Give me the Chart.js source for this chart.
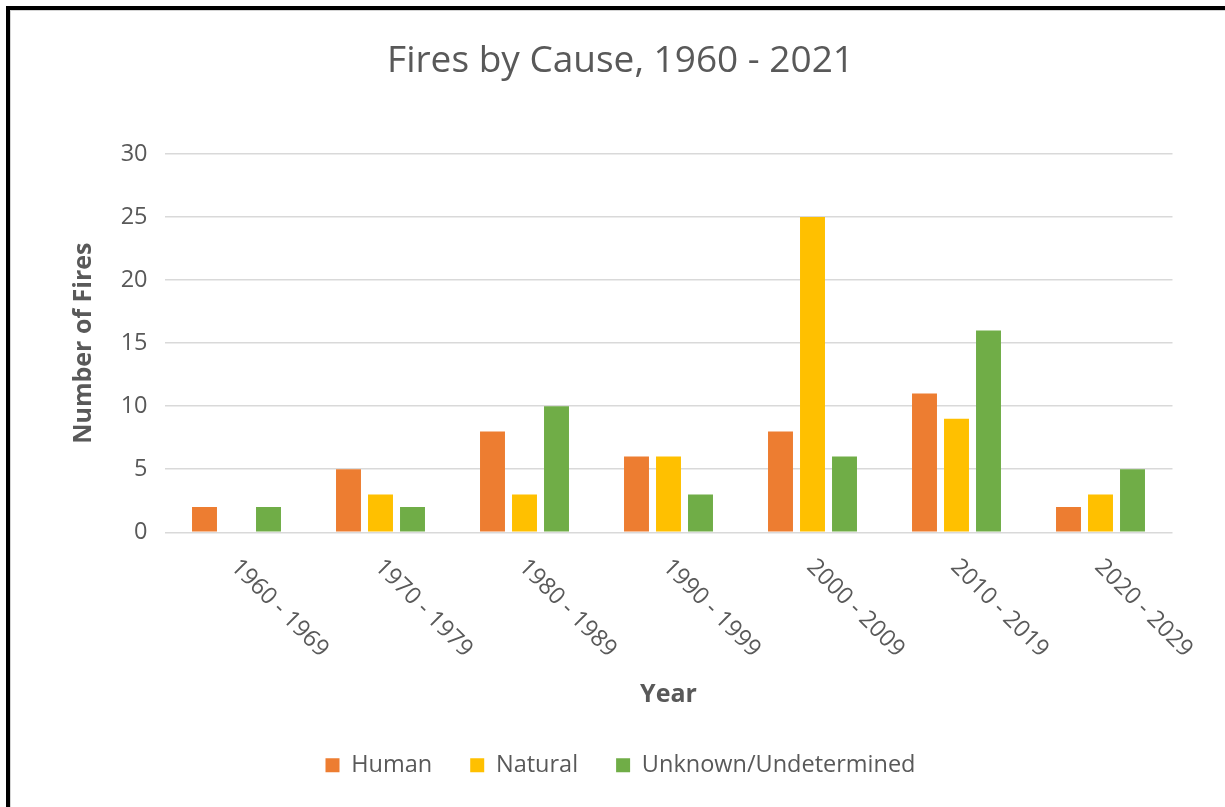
<!DOCTYPE html>
<html>
<head>
<meta charset="utf-8">
<title>Fires by Cause, 1960 - 2021</title>
<script src="https://cdn.jsdelivr.net/npm/chart.js@4/dist/chart.umd.min.js"></script>
<style>
  html, body { margin: 0; padding: 0; background: #fff; overflow: hidden; }
  #wrap { position: relative; width: 1225px; height: 807px; }
  #frame {
    position: absolute; left: 6px; top: 6px; width: 1225px; height: 807px;
    border-left: 4px solid #000; border-top: 4px solid #000;
    box-shadow: inset 1px 1px 0 #d4d4d4; pointer-events: none;
  }
</style>
</head>
<body>
<div id="wrap">
  <canvas id="chart-fires" width="1225" height="807"></canvas>
  <div id="frame"></div>
</div>
<script>
// ─── Дані ────────────────────────────────────────────────────────────────────
const decades = ["1960 - 1969", "1970 - 1979", "1980 - 1989", "1990 - 1999",
                 "2000 - 2009", "2010 - 2019", "2020 - 2029"];
const human   = [2, 5, 8, 6, 8, 11, 2];
const natural = [0, 3, 3, 6, 25, 9, 3];
const unknown = [2, 2, 10, 3, 6, 16, 5];

const TEXT = "#595959";
const GRID = "#d9d9d9";
const FONT = '"Open Sans", sans-serif';

// ─── Підписи осі X (повернуті вниз-праворуч, як в Excel) ─────────────────────
const decadeLabels = {
  id: "decadeLabels",
  afterDraw(chart) {
    const xScale = chart.scales.x;
    const ctx = chart.ctx;
    ctx.save();
    ctx.font = "23.5px " + FONT;
    ctx.fillStyle = TEXT;
    ctx.textAlign = "left";
    ctx.textBaseline = "middle";
    decades.forEach((label, i) => {
      ctx.save();
      ctx.translate(xScale.getPixelForTick(i) - 2, chart.chartArea.bottom + 31);
      ctx.rotate(Math.PI / 4);
      ctx.fillText(label, 0, 0);
      ctx.restore();
    });
    ctx.restore();
  }
};

new Chart(document.getElementById("chart-fires"), {
  type: "bar",
  data: {
    labels: decades,
    datasets: [
      { label: "Human", data: human, backgroundColor: "#ED7D31" },
      { label: "Natural", data: natural, backgroundColor: "#FFC000" },
      { label: "Unknown/Undetermined", data: unknown, backgroundColor: "#70AD47" }
    ]
  },
  options: {
    responsive: false,
    animation: false,
    layout: { padding: { left: 68.5, right: 52.5, top: 0, bottom: 20 } },
    datasets: { bar: { categoryPercentage: 0.6667, barPercentage: 0.78 } },
    plugins: {
      title: {
        display: true,
        text: "Fires by Cause, 1960 - 2021",
        color: TEXT,
        font: { family: FONT, size: 37, weight: "normal" },
        padding: { top: 39, bottom: 70.6 }
      },
      legend: {
        position: "bottom",
        maxHeight: 93.75,
        labels: {
          color: TEXT,
          font: { family: FONT, size: 23.5 },
          boxWidth: 14,
          boxHeight: 14,
          padding: 38
        }
      },
      tooltip: { enabled: false }
    },
    scales: {
      x: {
        grid: { display: false, drawTicks: false },
        border: { display: false },
        ticks: { display: false },
        title: {
          display: true,
          text: "Year",
          color: TEXT,
          font: { family: FONT, size: 25, weight: "bold" },
          padding: { top: 148, bottom: 5.25 }
        }
      },
      y: {
        min: 0,
        max: 30,
        afterFit: scale => { scale.width = 96; },
        grid: { color: GRID, lineWidth: 1.5, drawTicks: false },
        border: { display: false },
        ticks: {
          stepSize: 5,
          padding: 17,
          color: TEXT,
          font: { family: FONT, size: 23.5 }
        },
        title: {
          display: true,
          text: "Number of Fires",
          color: TEXT,
          font: { family: FONT, size: 25, weight: "bold" },
          padding: { top: 0, bottom: 0 }
        }
      }
    }
  },
  plugins: [decadeLabels]
});
</script>
</body>
</html>
